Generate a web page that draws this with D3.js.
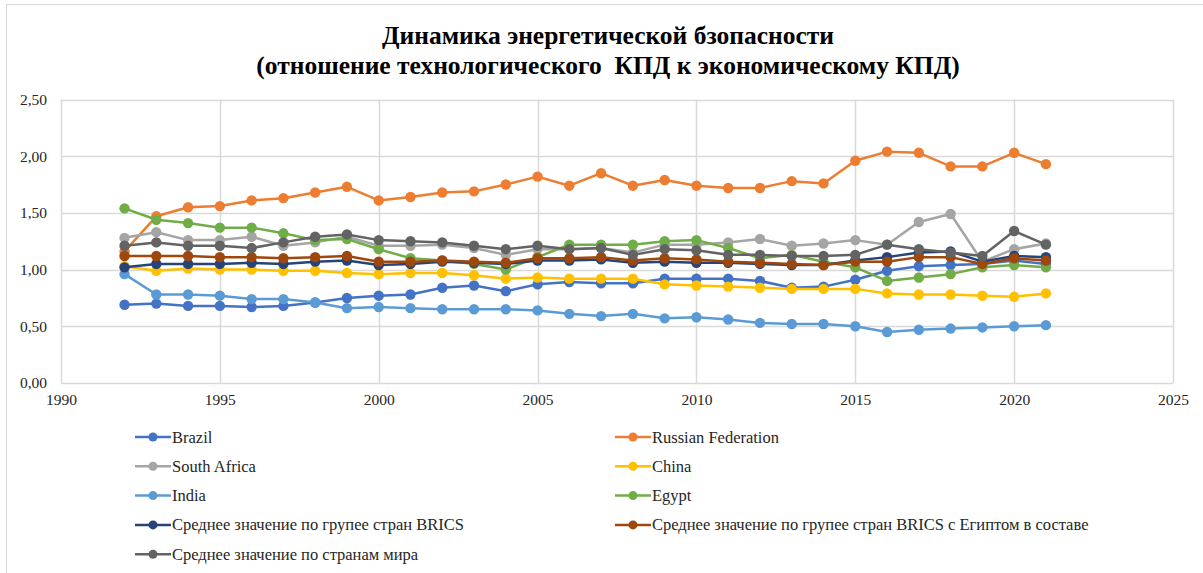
<!DOCTYPE html>
<html>
<head><meta charset="utf-8">
<style>
  body { margin: 0; background: #fff; }
  text { font-family: "Liberation Serif", "Times New Roman", serif; }
</style>
</head>
<body>
<script src="https://d3js.org/d3.v7.min.js"></script>
<script>
var width = 1203, height = 573;

var years = d3.range(1992, 2022);
var xTicks = [1990, 1995, 2000, 2005, 2010, 2015, 2020, 2025];
var yTicks = [0, 0.5, 1, 1.5, 2, 2.5];

var brazil = [0.69,0.70,0.68,0.68,0.67,0.68,0.71,0.75,0.77,0.78,0.84,0.86,0.81,0.87,0.89,0.88,0.88,0.92,0.92,0.92,0.90,0.84,0.85,0.91,0.99,1.03,1.04,1.05,1.08,1.05];
var russia = [1.16,1.47,1.55,1.56,1.61,1.63,1.68,1.73,1.61,1.64,1.68,1.69,1.75,1.82,1.74,1.85,1.74,1.79,1.74,1.72,1.72,1.78,1.76,1.96,2.04,2.03,1.91,1.91,2.03,1.93];
var southAfrica = [1.28,1.33,1.26,1.26,1.29,1.21,1.24,1.29,1.21,1.21,1.22,1.19,1.13,1.18,1.18,1.19,1.15,1.22,1.22,1.24,1.27,1.21,1.23,1.26,1.22,1.42,1.49,1.07,1.18,1.23];
var china = [1.03,0.99,1.01,1.00,1.00,0.99,0.99,0.97,0.96,0.97,0.97,0.95,0.92,0.93,0.92,0.92,0.92,0.87,0.86,0.85,0.84,0.83,0.83,0.83,0.79,0.78,0.78,0.77,0.76,0.79];
var india = [0.96,0.78,0.78,0.77,0.74,0.74,0.71,0.66,0.67,0.66,0.65,0.65,0.65,0.64,0.61,0.59,0.61,0.57,0.58,0.56,0.53,0.52,0.52,0.50,0.45,0.47,0.48,0.49,0.50,0.51];
var egypt = [1.54,1.44,1.41,1.37,1.37,1.32,1.26,1.27,1.18,1.10,1.08,1.05,1.00,1.11,1.22,1.22,1.22,1.25,1.26,1.19,1.10,1.13,1.07,1.02,0.90,0.93,0.96,1.02,1.04,1.02];
var brics = [1.02,1.05,1.05,1.05,1.06,1.05,1.07,1.08,1.04,1.05,1.07,1.06,1.05,1.08,1.08,1.09,1.06,1.07,1.06,1.06,1.05,1.04,1.04,1.08,1.11,1.15,1.16,1.07,1.12,1.11];
var bricsEgypt = [1.12,1.12,1.12,1.11,1.11,1.10,1.11,1.12,1.07,1.07,1.08,1.07,1.06,1.10,1.10,1.11,1.08,1.10,1.09,1.07,1.06,1.05,1.04,1.07,1.07,1.11,1.11,1.05,1.10,1.08];
var world = [1.21,1.24,1.21,1.21,1.19,1.24,1.29,1.31,1.26,1.25,1.24,1.21,1.18,1.21,1.18,1.19,1.13,1.18,1.17,1.13,1.13,1.12,1.12,1.13,1.22,1.18,1.15,1.12,1.34,1.22];

var names = ["Brazil", "Russian Federation", "South Africa", "China", "India", "Egypt",
  "Среднее значение по групее стран BRICS",
  "Среднее значение по групее стран BRICS с Египтом в составе",
  "Среднее значение по странам мира"];
var colors = ["#4472C4", "#ED7D31", "#A5A5A5", "#FFC000", "#5B9BD5", "#70AD47", "#264478", "#9E480E", "#636363"];
var values = [brazil, russia, southAfrica, china, india, egypt, brics, bricsEgypt, world];

var series = names.map(function(n, i) {
  return { name: n, color: colors[i], points: years.map(function(y, j) { return { year: y, v: values[i][j] }; }) };
});

var svg = d3.select("body").append("svg")
  .attr("width", width)
  .attr("height", height);

// outer frame of the chart
svg.append("rect")
  .attr("x", 6.5).attr("y", 4.5)
  .attr("width", width + 20).attr("height", height + 20)
  .attr("fill", "none").attr("stroke", "#d9d9d9");

var x = d3.scaleLinear().domain([1990, 2025]).range([61, 1173]);
var y = d3.scaleLinear().domain([0, 2.5]).range([383, 99.5]);

// title
var title = svg.append("text")
  .attr("text-anchor", "middle")
  .attr("font-weight", "bold")
  .attr("font-size", 25.5)
  .attr("fill", "#000")
  .style("white-space", "pre");
title.append("tspan").attr("x", 608).attr("y", 44).text("Динамика энергетической бзопасности");
title.append("tspan").attr("x", 608).attr("y", 74).text("(отношение технологического  КПД к экономическому КПД)");

// grid
svg.append("g").selectAll("line").data(yTicks).enter().append("line")
  .attr("x1", x(1990)).attr("x2", x(2025))
  .attr("y1", function(d) { return Math.round(y(d)) + 0.5; })
  .attr("y2", function(d) { return Math.round(y(d)) + 0.5; })
  .attr("stroke", "#d9d9d9").attr("stroke-width", 1.5);

svg.append("g").selectAll("line").data(xTicks).enter().append("line")
  .attr("x1", function(d) { return Math.round(x(d)) + 0.5; })
  .attr("x2", function(d) { return Math.round(x(d)) + 0.5; })
  .attr("y1", y(2.5)).attr("y2", y(0))
  .attr("stroke", "#d9d9d9").attr("stroke-width", 1.5);

// axes labels
var fmt = function(d) { return d3.format(".2f")(d).replace(".", ","); };
var yAxis = d3.axisLeft(y).tickValues(yTicks).tickFormat(fmt).tickSize(0).tickPadding(14);
var gy = svg.append("g").attr("transform", "translate(" + x(1990) + ",0)").call(yAxis);
gy.select(".domain").remove();
gy.selectAll("text").attr("font-size", 15.5).attr("fill", "#262626")
  .style("font-family", "'Liberation Serif', serif");

var xAxis = d3.axisBottom(x).tickValues(xTicks).tickFormat(d3.format("d")).tickSize(0).tickPadding(11);
var gx = svg.append("g").attr("transform", "translate(0," + y(0) + ")").call(xAxis);
gx.select(".domain").remove();
gx.selectAll("text").attr("font-size", 15.5).attr("fill", "#262626")
  .style("font-family", "'Liberation Serif', serif");

// series
var line = d3.line().x(function(d) { return x(d.year); }).y(function(d) { return y(d.v); });
series.forEach(function(s) {
  var g = svg.append("g");
  g.append("path").datum(s.points)
    .attr("d", line)
    .attr("fill", "none")
    .attr("stroke", s.color)
    .attr("stroke-width", 2.5)
    .attr("stroke-linejoin", "round");
  g.selectAll("circle").data(s.points).enter().append("circle")
    .attr("cx", function(d) { return x(d.year); })
    .attr("cy", function(d) { return y(d.v); })
    .attr("r", 5.2)
    .attr("fill", s.color);
});

// legend
var legend = svg.append("g").selectAll("g").data(series).enter().append("g")
  .attr("transform", function(d, i) {
    var col = i % 2, row = Math.floor(i / 2);
    return "translate(" + (col ? 615 : 135) + "," + (437 + row * 29.3) + ")";
  });
legend.append("line")
  .attr("x1", 0).attr("x2", 36).attr("y1", 0).attr("y2", 0)
  .attr("stroke", function(d) { return d.color; }).attr("stroke-width", 2.5);
legend.append("circle")
  .attr("cx", 18).attr("cy", 0).attr("r", 4.5)
  .attr("fill", function(d) { return d.color; });
legend.append("text")
  .attr("x", 37).attr("y", 5.5)
  .attr("font-size", 16.5)
  .attr("fill", "#262626")
  .text(function(d) { return d.name; });
</script>
</body>
</html>
